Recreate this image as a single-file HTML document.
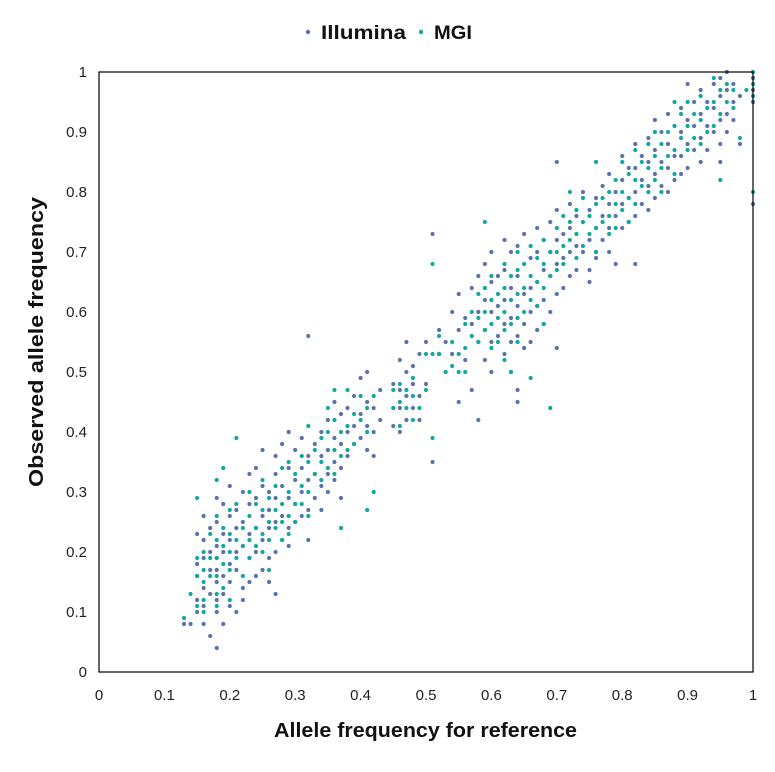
<!DOCTYPE html>
<html><head><meta charset="utf-8"><style>
body{margin:0;background:#fff;}
svg{display:block;font-family:"Liberation Sans",sans-serif;}
</style></head><body>
<svg id="chart" width="775" height="772" viewBox="0 0 775 772">
<g>
<g><circle cx="308" cy="32" r="2.2" fill="#5b72ad"/><text x="321" y="39" font-size="19" font-weight="bold" fill="#111" textLength="85" lengthAdjust="spacingAndGlyphs">Illumina</text></g>
<g><circle cx="421" cy="32" r="2.2" fill="#13a89e"/><text x="434" y="39" font-size="19" font-weight="bold" fill="#111" textLength="38" lengthAdjust="spacingAndGlyphs">MGI</text></g>
</g>
<g id="marks"></g>
<rect x="99" y="72" width="654" height="600" fill="none" stroke="#000" stroke-width="1.2"/>
<g id="xt"></g>
<g id="yt"></g>
<text x="274" y="737" font-size="20" font-weight="bold" fill="#111" textLength="303" lengthAdjust="spacingAndGlyphs">Allele frequency for reference</text>
<text transform="translate(43,487) rotate(-90)" font-size="20" font-weight="bold" fill="#111" textLength="290" lengthAdjust="spacingAndGlyphs">Observed allele frequency</text>
</svg>
<script>
const tickValues=[0,0.1,0.2,0.3,0.4,0.5,0.6,0.7,0.8,0.9,1];
const tickLabels=["0","0.1","0.2","0.3","0.4","0.5","0.6","0.7","0.8","0.9","1"];
const illuminaX=[0.13,0.14,0.15,0.16,0.17,0.18,0.19,0.20,0.21,0.22,0.23,0.24,0.25,0.26,0.27,0.28,0.29,0.30,0.31,0.32,0.33,0.34,0.35,0.36,0.37,0.38,0.39,0.40,0.41,0.42,0.43,0.45,0.46,0.47,0.48,0.49,0.50,0.51,0.52,0.53,0.54,0.55,0.56,0.57,0.58,0.59,0.60,0.61,0.62,0.63,0.64,0.65,0.66,0.67,0.68,0.69,0.70,0.71,0.72,0.73,0.74,0.75,0.76,0.77,0.78,0.79,0.80,0.81,0.82,0.83,0.84,0.85,0.86,0.87,0.88,0.89,0.90,0.91,0.92,0.93,0.94,0.95,0.96,0.97,0.98,1.0];
const illuminaY=[[0.08],[0.08],[0.23,0.18,0.16,0.12,0.10],[0.26,0.22,0.19,0.14,0.11,0.08],[0.24,0.20,0.17,0.13,0.06],[0.29,0.25,0.21,0.19,0.17,0.15,0.12,0.10,0.04],[0.28,0.23,0.20,0.16,0.13,0.08],[0.31,0.26,0.22,0.18,0.15,0.11],[0.27,0.24,0.20,0.17,0.10],[0.30,0.25,0.21,0.14,0.12],[0.33,0.28,0.23,0.19,0.15],[0.34,0.29,0.24,0.20,0.16],[0.37,0.31,0.26,0.22,0.17],[0.30,0.27,0.24,0.19,0.15],[0.36,0.33,0.29,0.25,0.20,0.13],[0.38,0.31,0.26,0.22],[0.40,0.34,0.29,0.24,0.21],[0.37,0.32,0.28,0.25],[0.39,0.34,0.30,0.26],[0.56,0.36,0.32,0.27,0.22],[0.38,0.33,0.29],[0.40,0.36,0.31,0.27],[0.42,0.37,0.33,0.30],[0.45,0.39,0.35,0.32],[0.43,0.38,0.34,0.29],[0.44,0.40,0.36],[0.46,0.41,0.38],[0.49,0.43,0.39],[0.50,0.45,0.41,0.37],[0.44,0.40,0.36],[0.47,0.42],[0.48,0.44,0.41],[0.52,0.47,0.44,0.40],[0.55,0.50,0.46,0.42],[0.51,0.48,0.44],[0.53,0.46,0.42],[0.55,0.48],[0.73,0.35],[0.57,0.53],[0.55,0.50],[0.60,0.53],[0.63,0.57,0.45],[0.59,0.52],[0.64,0.58,0.47],[0.66,0.60,0.55,0.42],[0.68,0.62,0.57,0.52],[0.70,0.65,0.60,0.55,0.50],[0.66,0.61,0.56],[0.72,0.67,0.62,0.58,0.53],[0.70,0.64,0.59,0.55,0.50],[0.71,0.66,0.61,0.56,0.47,0.45],[0.73,0.68,0.63,0.58,0.54],[0.69,0.64,0.60,0.55],[0.74,0.70,0.65,0.61,0.57],[0.72,0.67,0.62,0.58],[0.75,0.70,0.66,0.60],[0.85,0.77,0.72,0.68,0.63,0.54],[0.73,0.69,0.64],[0.78,0.74,0.70,0.66],[0.76,0.71,0.67],[0.80,0.75,0.70],[0.77,0.72,0.67,0.65],[0.79,0.74,0.69],[0.81,0.76,0.72],[0.83,0.78,0.74,0.70],[0.80,0.76,0.68],[0.86,0.82,0.78,0.74],[0.84,0.79,0.75],[0.88,0.84,0.80,0.76,0.68],[0.86,0.82,0.78],[0.89,0.85,0.81,0.77],[0.92,0.87,0.83,0.79],[0.90,0.85,0.81],[0.93,0.88,0.84,0.80],[0.91,0.86,0.82],[0.94,0.90,0.86,0.83],[0.98,0.92,0.88,0.84],[0.95,0.91,0.87],[0.97,0.93,0.89,0.85],[0.95,0.91,0.87],[0.98,0.94,0.90],[0.99,0.96,0.92,0.88,0.85],[1.0,0.97,0.93,0.90],[0.98,0.95,0.92],[0.96,0.88],[0.99,0.97,0.95,0.78]];
const mgiX=[0.13,0.14,0.15,0.16,0.17,0.18,0.19,0.20,0.21,0.22,0.23,0.24,0.25,0.26,0.27,0.28,0.29,0.30,0.31,0.32,0.33,0.34,0.35,0.36,0.37,0.38,0.39,0.40,0.41,0.42,0.45,0.46,0.47,0.48,0.49,0.50,0.51,0.52,0.53,0.54,0.55,0.56,0.57,0.58,0.59,0.60,0.61,0.62,0.63,0.64,0.65,0.66,0.67,0.68,0.69,0.70,0.71,0.72,0.73,0.74,0.75,0.76,0.77,0.78,0.79,0.80,0.81,0.82,0.83,0.84,0.85,0.86,0.87,0.88,0.89,0.90,0.91,0.92,0.93,0.94,0.95,0.96,0.97,0.98,0.99,1.0];
const mgiY=[[0.09],[0.13],[0.29,0.19,0.16,0.11],[0.20,0.17,0.15,0.12,0.10],[0.23,0.19,0.16],[0.32,0.26,0.22,0.19,0.16,0.13,0.11],[0.34,0.24,0.21,0.18,0.14],[0.27,0.23,0.20,0.17,0.12],[0.39,0.28,0.22,0.19],[0.24,0.21,0.16],[0.30,0.26,0.22,0.19],[0.28,0.24,0.21],[0.32,0.27,0.23,0.20],[0.29,0.25,0.22,0.17],[0.31,0.27,0.24],[0.34,0.28,0.25,0.22],[0.35,0.30,0.26,0.23],[0.33,0.28,0.25],[0.36,0.31,0.28],[0.41,0.35,0.30,0.26],[0.37,0.33],[0.39,0.35,0.32],[0.44,0.40,0.34],[0.47,0.42,0.37,0.33],[0.40,0.36,0.24],[0.47,0.41,0.37],[0.43,0.38],[0.46,0.42],[0.27,0.44,0.40],[0.46,0.30],[0.47,0.44],[0.48,0.45,0.41],[0.47,0.44],[0.49,0.46,0.42],[0.44],[0.53,0.47],[0.68,0.53,0.39],[0.56,0.53],[0.50],[0.55,0.51],[0.53,0.50],[0.58,0.54,0.50],[0.60,0.56],[0.63,0.59,0.55],[0.75,0.64,0.60,0.57],[0.66,0.62,0.58,0.54],[0.63,0.59,0.55],[0.68,0.64,0.60,0.57,0.52],[0.66,0.62,0.58,0.50],[0.70,0.67,0.63,0.59,0.55],[0.68,0.64,0.60],[0.71,0.66,0.62,0.49],[0.69,0.65,0.61],[0.72,0.68,0.64,0.58],[0.44,0.70,0.66],[0.74,0.70,0.67],[0.76,0.71,0.68],[0.80,0.75,0.72],[0.77,0.73,0.69],[0.79,0.75,0.71],[0.76,0.73],[0.85,0.78,0.74,0.70],[0.79,0.75],[0.80,0.76,0.73],[0.82,0.78,0.74],[0.85,0.80,0.77],[0.83,0.79,0.75],[0.87,0.82,0.78],[0.85,0.81],[0.88,0.84,0.80],[0.90,0.86,0.82],[0.88,0.84,0.80],[0.90,0.86],[0.95,0.91,0.87,0.83],[0.93,0.89],[0.95,0.91,0.87],[0.93,0.89],[0.96,0.92,0.88],[0.94,0.90],[0.99,0.95,0.91],[0.97,0.93,0.82],[0.98,0.95],[0.97,0.94],[0.89],[0.97],[1.0,0.98,0.96,0.80]];

const NS="http://www.w3.org/2000/svg";
const L=99,R=753,T=72,B=672;
const sx=v=>L+v*(R-L), sy=v=>B-v*(B-T);
const marks=document.getElementById('marks');
function drawSeries(xs,ys,color,name){
  xs.forEach((x,i)=>{ys[i].forEach(y=>{
    const c=document.createElementNS(NS,'circle');
    c.setAttribute('cx',sx(x));c.setAttribute('cy',sy(y));c.setAttribute('r',2.1);c.setAttribute('fill',color);
    
    
    marks.appendChild(c);});});
}
drawSeries(illuminaX,illuminaY,'#5b72ad','illumina');
drawSeries(mgiX,mgiY,'#13a89e','mgi');
const xt=document.getElementById('xt'),yt=document.getElementById('yt');
tickValues.forEach((v,i)=>{
  let t=document.createElementNS(NS,'text');
  t.setAttribute('x',sx(v));t.setAttribute('y',700);t.setAttribute('text-anchor','middle');t.setAttribute('font-size','15');t.setAttribute('fill','#222');
  t.textContent=tickLabels[i];
  
  
  xt.appendChild(t);
  let u=document.createElementNS(NS,'text');
  u.setAttribute('x',87);u.setAttribute('y',sy(v)+5);u.setAttribute('text-anchor','end');u.setAttribute('font-size','15');u.setAttribute('fill','#222');
  u.textContent=tickLabels[i];
  
  
  yt.appendChild(u);
});
</script>
</body></html>
